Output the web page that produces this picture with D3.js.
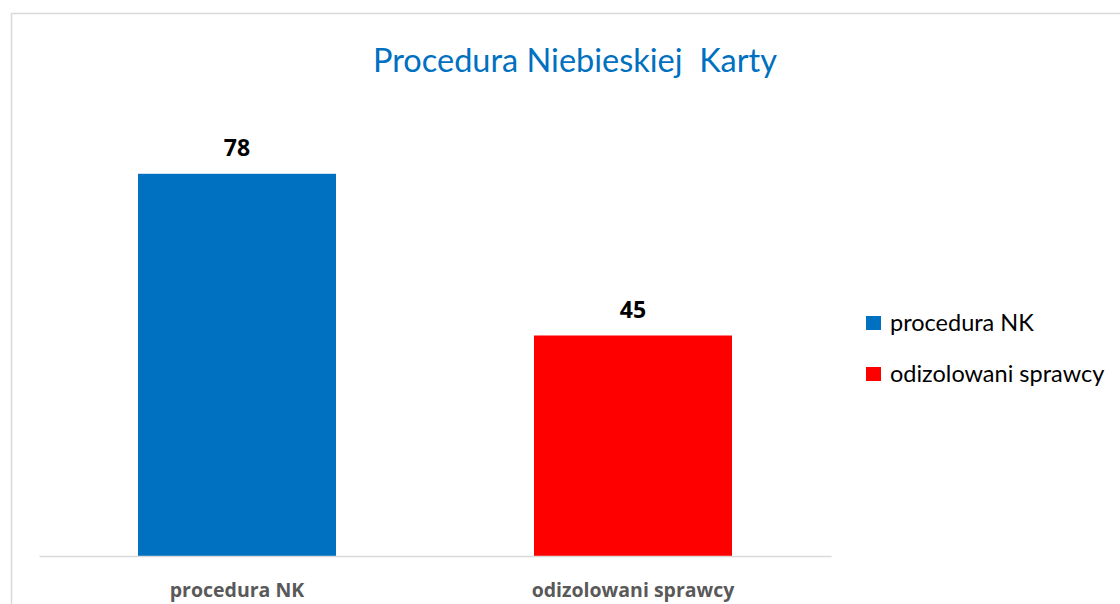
<!DOCTYPE html>
<html><head><meta charset="utf-8">
<script src="https://cdn.jsdelivr.net/npm/d3@7"></script>
<style>body{margin:0;background:#fff;}svg{display:block;}</style>
</head><body>
<script>
const categories = ["procedura NK", "odizolowani sprawcy"];
const values = [78, 45];
const colors = ["#0070C0", "#FF0000"];
const title = "Procedura Niebieskiej\u00a0 Karty";

const W = 1120, H = 604;
const svg = d3.select("body").append("svg").attr("width", W).attr("height", H);
svg.append("rect").attr("x", 11.5).attr("y", 13.5).attr("width", 1200).attr("height", 700)
  .attr("fill", "#fff").attr("stroke", "#D9D9D9").attr("stroke-width", 1.5);

const x = d3.scaleBand().domain(categories).range([39, 831]).paddingInner(0.5).paddingOuter(0.25);
const y = d3.scaleLinear().domain([0, 90]).range([556, 115]);

svg.append("text").attr("x", 575).attr("y", 72).attr("text-anchor", "middle")
  .attr("font-family", "Lato, 'Open Sans', sans-serif").attr("font-size", 32.5).attr("fill", "#0070C0")
  .text(title);

svg.selectAll("rect.bar").data(values).enter().append("rect").attr("class", "bar")
  .attr("x", (d, i) => x(categories[i])).attr("width", x.bandwidth())
  .attr("y", d => y(d)).attr("height", d => y(0) - y(d)).attr("fill", (d, i) => colors[i]);

svg.selectAll("text.val").data(values).enter().append("text").attr("class", "val")
  .attr("x", (d, i) => x(categories[i]) + x.bandwidth() / 2).attr("y", d => y(d) - 18)
  .attr("text-anchor", "middle").attr("font-family", "'Open Sans', sans-serif")
  .attr("font-weight", "bold").attr("font-size", 23).attr("fill", "#000").text(d => d);

const ax = svg.append("g").attr("transform", `translate(0,${y(0)})`)
  .call(d3.axisBottom(x).tickSize(0).tickPadding(0));
ax.select(".domain").attr("stroke", "#D9D9D9").attr("stroke-width", 1.5);
ax.selectAll("text").attr("dy", null).attr("y", 41).attr("font-family", "'Open Sans', sans-serif")
  .attr("font-weight", "bold").attr("font-size", 19.5).attr("fill", "#595959");

const lg = svg.selectAll("g.lg").data(categories).enter().append("g").attr("class", "lg")
  .attr("transform", (d, i) => `translate(866,${316 + i * 51})`);
lg.append("rect").attr("width", 15).attr("height", 14).attr("fill", (d, i) => colors[i]);
lg.append("text").attr("x", 24).attr("y", 15).attr("font-family", "Lato, sans-serif")
  .attr("font-size", 23.5).attr("fill", "#000").text(d => d);
</script>
</body></html>
